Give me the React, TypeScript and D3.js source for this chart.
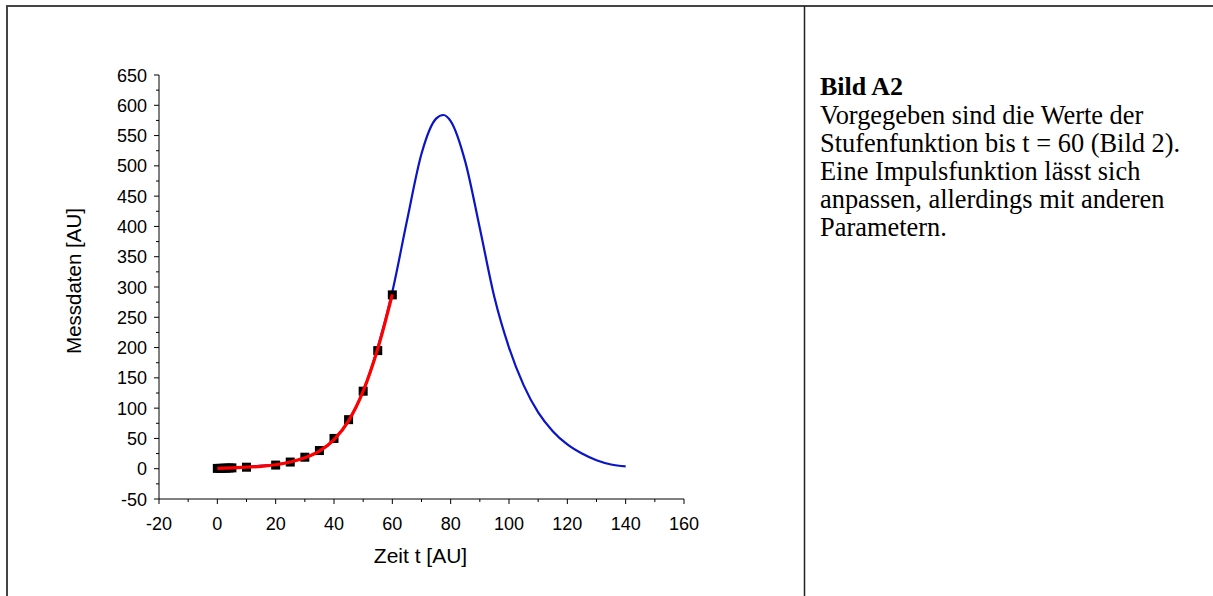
import React from "react";
import * as d3 from "d3";

// Measured data (black squares)
const dataT = [0, 1, 2, 3, 4, 5, 10, 20, 25, 30, 35, 40, 45, 50, 55, 60];
const dataY = [0.5, 0.6, 0.8, 1.0, 1.2, 1.4, 2.5, 6, 11, 19, 30, 50, 81, 128, 195, 287];

// Red fit curve (step function fit)
const fitT = [0, 5, 10, 15, 20, 25, 30, 35, 40, 45, 50, 55, 60];
const fitY = [0.5, 1.5, 2.5, 4, 6.5, 11, 18, 29, 48, 79, 128, 198, 288];

// Blue impulse function curve
const impT = [0, 5, 10, 15, 20, 25, 30, 35, 40, 45, 50, 55, 60, 65, 70, 75, 77.5, 80, 85, 90, 95, 100, 105, 110, 115, 120, 125, 130, 135, 140];
const impY = [1, 2, 3, 5, 7, 11, 18, 29, 48, 79, 128, 200, 292, 409, 520, 578, 584, 574, 507, 397, 283, 200, 138, 93, 62, 40, 25, 14, 7, 4];

const xTicks = [-20, 0, 20, 40, 60, 80, 100, 120, 140, 160];
const yTicks = [-50, 0, 50, 100, 150, 200, 250, 300, 350, 400, 450, 500, 550, 600, 650];

const xLabel = "Zeit t [AU]";
const yLabel = "Messdaten [AU]";
const noteTitle = "Bild A2";
const noteLines = [
  "Vorgegeben sind die Werte der",
  "Stufenfunktion bis t = 60 (Bild 2).",
  "Eine Impulsfunktion lässt sich",
  "anpassen, allerdings mit anderen",
  "Parametern.",
];

export default function App() {
  const W = 1213, H = 596;
  const x = d3.scaleLinear().domain([-20, 160]).range([159, 684]);
  const y = d3.scaleLinear().domain([-50, 650]).range([499, 75]);

  const line = d3
    .line<[number, number]>()
    .x((d) => x(d[0]))
    .y((d) => y(d[1]))
    .curve(d3.curveMonotoneX);

  const imp: [number, number][] = impT.map((t, i) => [t, impY[i]]);
  const fit: [number, number][] = fitT.map((t, i) => [t, fitY[i]]);

  const xMinor = d3.range(-20, 161, 10).filter((v) => !xTicks.includes(v));
  const yMinor = d3.range(-50, 651, 25).filter((v) => !yTicks.includes(v));

  const font = "'Liberation Sans', Arial, sans-serif";
  const serif = "'Liberation Serif', 'Times New Roman', serif";

  return (
    <svg
      width={W}
      height={H}
      style={{ position: "absolute", left: 0, top: 0, background: "#fff" }}
    >
      {/* table frame */}
      <line x1={6} y1={6} x2={W + 5} y2={6} stroke="#444" strokeWidth={2} />
      <line x1={7} y1={5} x2={7} y2={H + 5} stroke="#444" strokeWidth={2} />
      <line x1={804.5} y1={6} x2={804.5} y2={H + 5} stroke="#222" strokeWidth={1.5} />

      {/* axes */}
      <line x1={x(-20)} y1={y(-50)} x2={x(160)} y2={y(-50)} stroke="#000" strokeWidth={1} />
      <line x1={x(-20)} y1={y(-50)} x2={x(-20)} y2={y(650)} stroke="#000" strokeWidth={1} />

      {xTicks.map((t) => (
        <g key={"xt" + t}>
          <line x1={x(t)} x2={x(t)} y1={y(-50)} y2={y(-50) + 5} stroke="#000" />
          <text x={x(t)} y={y(-50) + 31} textAnchor="middle" fontFamily={font} fontSize={18}>
            {t}
          </text>
        </g>
      ))}
      {xMinor.map((t) => (
        <line key={"xm" + t} x1={x(t)} x2={x(t)} y1={y(-50)} y2={y(-50) + 3} stroke="#000" />
      ))}
      {yTicks.map((v) => (
        <g key={"yt" + v}>
          <line x1={x(-20) - 5} x2={x(-20)} y1={y(v)} y2={y(v)} stroke="#000" />
          <text x={x(-20) - 12} y={y(v) + 6.5} textAnchor="end" fontFamily={font} fontSize={18}>
            {v}
          </text>
        </g>
      ))}
      {yMinor.map((v) => (
        <line key={"ym" + v} x1={x(-20) - 3} x2={x(-20)} y1={y(v)} y2={y(v)} stroke="#000" />
      ))}

      <text x={420.5} y={563} textAnchor="middle" fontFamily={font} fontSize={21}>
        {xLabel}
      </text>
      <text
        transform={`translate(81,281) rotate(-90)`}
        textAnchor="middle"
        fontFamily={font}
        fontSize={20.5}
      >
        {yLabel}
      </text>

      {/* curves */}
      <path d={line(imp) || ""} fill="none" stroke="#0a14c8" strokeWidth={2.2} />
      {dataT.map((t, i) => (
        <rect key={"p" + i} x={x(t) - 4.5} y={y(dataY[i]) - 4.5} width={9} height={9} fill="#000" />
      ))}
      <path d={line(fit) || ""} fill="none" stroke="#ff0000" strokeWidth={3.2} />

      {/* note text */}
      <text x={820} y={95} fontFamily={serif} fontSize={26} fontWeight="bold">
        {noteTitle}
      </text>
      {noteLines.map((s, i) => (
        <text key={"n" + i} x={820} y={124 + i * 28} fontFamily={serif} fontSize={26.4}>
          {s}
        </text>
      ))}
    </svg>
  );
}
